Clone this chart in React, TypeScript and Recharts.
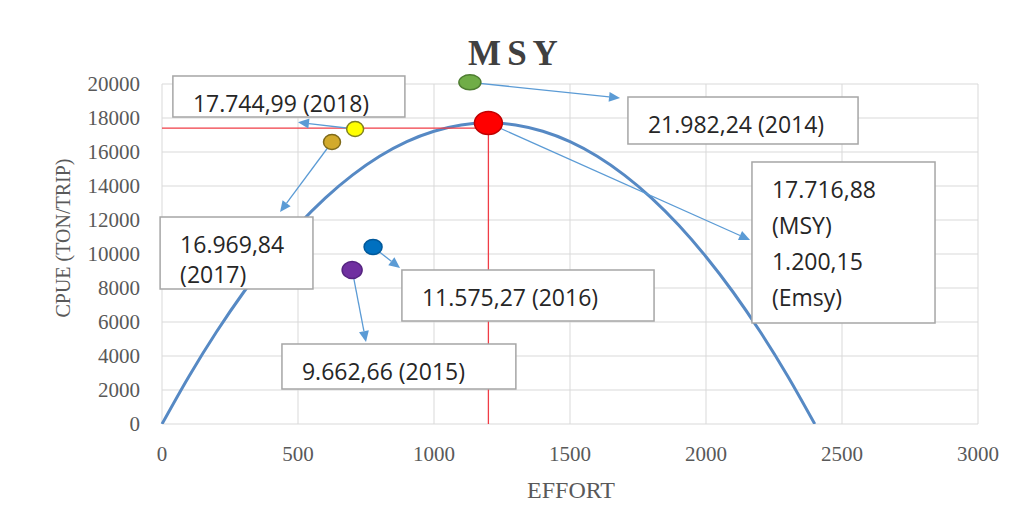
import React from 'react';
import {
    ComposedChart,
    CartesianGrid,
    XAxis,
    YAxis,
    Line,
    ReferenceLine,
    ReferenceDot
} from 'recharts';

// fitted yield curve
const curveEffort = [0, 100, 200, 300, 400, 500, 600, 700, 800, 900, 1000, 1100, 1200, 1300, 1400, 1500, 1600, 1700, 1800, 1900, 2000, 2100, 2200, 2300, 2400];
const curveCpue = [0, 2830, 5410, 7750, 9840, 11690, 13290, 14640, 15750, 16610, 17220, 17590, 17717, 17590, 17220, 16610, 15750, 14640, 13290, 11690, 9840, 7750, 5410, 2830, 0];

// observed years + MSY point
const pointKeys = ['2014', '2015', '2016', '2017', '2018', 'MSY'];
const pointEffort = [1132, 699, 776, 625, 710, 1200];
const pointCpue = [20100, 9059, 10412, 16588, 17353, 17706];

const noteLines: Record<string, string[]> = {
    '2014': ['21.982,24 (2014)'],
    '2015': ['9.662,66 (2015)'],
    '2016': ['11.575,27 (2016)'],
    '2017': ['16.969,84', '(2017)'],
    '2018': ['17.744,99 (2018)'],
    'MSY': ['17.716,88', '(MSY)', '1.200,15', '(Emsy)']
};

const msyLevel = 17400;
const emsy = 1200;

const xTicks = [0, 500, 1000, 1500, 2000, 2500, 3000];
const yTicks = [0, 2000, 4000, 6000, 8000, 10000, 12000, 14000, 16000, 18000, 20000];

const curveData = curveEffort.map((effort, i) => ({ effort, cpue: curveCpue[i] }));

// text box placement in axis units: [x1, x2, y1, y2], line step in px
const noteBox: Record<string, { box: number[]; step: number }> = {
    '2014': { box: [1713, 2559, 16471, 19235], step: 0 },
    '2015': { box: [441, 1301, 2059, 4706], step: 0 },
    '2016': { box: [882, 1809, 6059, 9059], step: 0 },
    '2017': { box: [-7, 555, 7941, 12176], step: 30 },
    '2018': { box: [40, 893, 18059, 20471], step: 0 },
    'MSY': { box: [2169, 2842, 5941, 15412], step: 36 }
};

// where each arrow ends, axis units
const arrowTip: Record<string, number[]> = {
    '2014': [1684, 19176],
    '2015': [750, 4824],
    '2016': [875, 9176],
    '2017': [434, 12470],
    '2018': [500, 17750],
    'MSY': [2162, 10824]
};

const dotStyle: Record<string, { fill: string; stroke: string; rx: number; ry: number }> = {
    '2014': { fill: '#70ad47', stroke: '#4e7d31', rx: 11, ry: 7.5 },
    '2015': { fill: '#7030a0', stroke: '#552480', rx: 10, ry: 8.5 },
    '2016': { fill: '#0070c0', stroke: '#00589a', rx: 9, ry: 7.5 },
    '2017': { fill: '#d2aa2c', stroke: '#7f6a1a', rx: 8.5, ry: 7.5 },
    '2018': { fill: '#ffff00', stroke: '#7f8020', rx: 8.5, ry: 7.5 },
    'MSY': { fill: '#ff0000', stroke: '#c00000', rx: 14, ry: 11.5 }
};

const serif = '"Liberation Serif", "Times New Roman", serif';
const sans = '"Open Sans", "Noto Sans", sans-serif';
const arrowColor = '#5b9bd5';
const chartMargin = { top: 84, right: 44, bottom: 70, left: 102 };
const tickStyle = { fontSize: 21, fill: '#595959', fontFamily: serif };

const ArrowShape = (props: any) => {
    const { x1, y1, x2, y2 } = props;
    const dx = x2 - x1;
    const dy = y2 - y1;
    const len = Math.sqrt(dx * dx + dy * dy) || 1;
    const ux = dx / len;
    const uy = dy / len;
    const head = 11;
    const half = 5;
    const bx = x2 - ux * head;
    const by = y2 - uy * head;
    const pts = `${x2},${y2} ${bx - uy * half},${by + ux * half} ${bx + uy * half},${by - ux * half}`;
    return (
        <g>
            <line x1={x1} y1={y1} x2={bx} y2={by} stroke={arrowColor} strokeWidth={1.3} />
            <polygon points={pts} fill={arrowColor} />
        </g>
    );
};

// the box is drawn from the diagonal of a reference segment
const makeBox = (key: string) => (props: any) => {
    const { x1, y1, x2, y2 } = props;
    const x = Math.min(x1, x2);
    const y = Math.min(y1, y2);
    const width = Math.abs(x2 - x1);
    const height = Math.abs(y2 - y1);
    const lines = noteLines[key];
    const step = noteBox[key].step;
    return (
        <g>
            <rect x={x} y={y} width={width} height={height} fill="#ffffff" stroke="#a6a6a6" strokeWidth={1.5} />
            {lines.map((t, i) => (
                <text key={i} x={x + 20} y={y + 36 + i * step} fontFamily={sans} fontSize={23} fill="#262626">
                    {t}
                </text>
            ))}
        </g>
    );
};

const makeDot = (key: string) => (props: any) => {
    const { cx, cy } = props;
    const s = dotStyle[key];
    return <ellipse cx={cx} cy={cy} rx={s.rx} ry={s.ry} fill={s.fill} stroke={s.stroke} strokeWidth={1.5} />;
};

// same axes for both layers so the scales line up
const axes = (showTicks: boolean) => [
    <XAxis
        key="x"
        type="number"
        dataKey="effort"
        domain={[0, 3000]}
        ticks={xTicks}
        axisLine={false}
        tickLine={false}
        tickSize={0}
        tickMargin={22}
        height={30}
        tick={showTicks ? tickStyle : false}
    />,
    <YAxis
        key="y"
        type="number"
        domain={[0, 20000]}
        ticks={yTicks}
        allowDataOverflow
        axisLine={false}
        tickLine={false}
        tickSize={0}
        tickMargin={22}
        width={60}
        tick={showTicks ? tickStyle : false}
    />
];

export default function App() {
    return (
        <div style={{ position: 'relative', width: 1022, height: 524, margin: -8, background: '#fff' }}>
            <div style={{ position: 'absolute', left: 6, top: 5, width: 1012, height: 515, border: '1px solid #d9d9d9', boxSizing: 'border-box' }} />
            <div style={{ position: 'absolute', left: 0, top: 0 }}>
                <ComposedChart width={1022} height={524} data={curveData} margin={chartMargin}>
                    <CartesianGrid stroke="#d9d9d9" strokeWidth={1} />
                    {axes(true)}
                    <Line
                        dataKey="cpue"
                        type="monotone"
                        stroke="#5689c4"
                        strokeWidth={3}
                        dot={false}
                        activeDot={false}
                        isAnimationActive={false}
                    />
                    <ReferenceLine
                        segment={[{ x: 0, y: msyLevel }, { x: emsy, y: msyLevel }]}
                        stroke="#f03c46"
                        strokeWidth={1.3}
                        ifOverflow="visible"
                    />
                    <ReferenceLine
                        segment={[{ x: emsy, y: 0 }, { x: emsy, y: pointCpue[5] }]}
                        stroke="#f03c46"
                        strokeWidth={1.3}
                        ifOverflow="visible"
                    />
                </ComposedChart>
            </div>
            {/* annotation layer: text boxes, arrows and points sit over the curve */}
            <div style={{ position: 'absolute', left: 0, top: 0 }}>
                <ComposedChart width={1022} height={524} data={curveData} margin={chartMargin}>
                    {axes(false)}
                    {pointKeys.map(key => {
                        const b = noteBox[key].box;
                        return (
                            <ReferenceLine
                                key={'box' + key}
                                segment={[{ x: b[0], y: b[3] }, { x: b[1], y: b[2] }]}
                                ifOverflow="visible"
                                shape={makeBox(key)}
                            />
                        );
                    })}
                    {pointKeys.map((key, i) => (
                        <ReferenceLine
                            key={'arrow' + key}
                            segment={[{ x: pointEffort[i], y: pointCpue[i] }, { x: arrowTip[key][0], y: arrowTip[key][1] }]}
                            ifOverflow="visible"
                            shape={ArrowShape}
                        />
                    ))}
                    {pointKeys.map((key, i) => (
                        <ReferenceDot
                            key={'dot' + key}
                            x={pointEffort[i]}
                            y={pointCpue[i]}
                            r={8}
                            ifOverflow="visible"
                            shape={makeDot(key)}
                        />
                    ))}
                </ComposedChart>
            </div>
            <svg width={1022} height={524} style={{ position: 'absolute', left: 0, top: 0, pointerEvents: 'none' }}>
                <text x={516} y={65} textAnchor="middle" fontFamily={serif} fontWeight="bold" fontSize={35} letterSpacing={6} fill="#404040">
                    MSY
                </text>
                <text x={70} y={238} transform="rotate(-90 70 238)" textAnchor="middle" fontFamily={serif} fontSize={20} fill="#595959">
                    CPUE (TON/TRIP)
                </text>
                <text x={571} y={498} textAnchor="middle" fontFamily={serif} fontSize={24} fill="#595959">
                    EFFORT
                </text>
            </svg>
        </div>
    );
}
